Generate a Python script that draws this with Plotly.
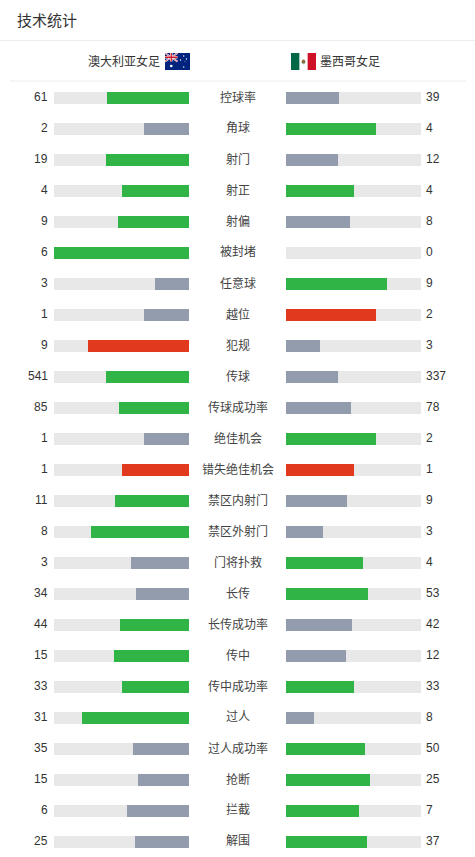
"""
技术统计 — 澳大利亚女足 vs 墨西哥女足
左右对比条形图 (Plotly)
"""
import base64

import plotly.graph_objects as go

W, H = 475, 857

# 数据
stat_labels = [
    "控球率", "角球", "射门", "射正", "射偏", "被封堵", "任意球", "越位", "犯规",
    "传球", "传球成功率", "绝佳机会", "错失绝佳机会", "禁区内射门", "禁区外射门",
    "门将扑救", "长传", "长传成功率", "传中", "传中成功率", "过人", "过人成功率",
    "抢断", "拦截", "解围",
]
home_values = [61, 2, 19, 4, 9, 6, 3, 1, 9, 541, 85, 1, 1, 11, 8, 3, 34, 44, 15, 33, 31, 35, 15, 6, 25]
away_values = [39, 4, 12, 4, 8, 0, 9, 2, 3, 337, 78, 2, 1, 9, 3, 4, 53, 42, 12, 33, 8, 50, 25, 7, 37]
negative_stats = ["越位", "犯规", "错失绝佳机会"]  # 数值高 = 红色

home_name = "澳大利亚女足"
away_name = "墨西哥女足"

GREEN = "#30b446"
GREY = "#939cac"
RED = "#e1391e"
TRACK = "#e8e8e8"
TEXT = "#333333"
FONT = "Liberation Sans, Noto Sans CJK SC, sans-serif"


def px_x(x):
    return x / W


def px_y(y):
    return 1 - y / H


home_share = [h / (h + a) if h + a else 0 for h, a in zip(home_values, away_values)]
away_share = [a / (h + a) if h + a else 0 for h, a in zip(home_values, away_values)]
home_colors = [
    (RED if lab in negative_stats else GREEN) if h >= a else GREY
    for lab, h, a in zip(stat_labels, home_values, away_values)
]
away_colors = [
    (RED if lab in negative_stats else GREEN) if a >= h else GREY
    for lab, h, a in zip(stat_labels, home_values, away_values)
]

fig = go.Figure()
bar_w = 12 / 31
for xa, share, colors in [("x", home_share, home_colors), ("x2", away_share, away_colors)]:
    # 灰色底轨
    fig.add_trace(go.Bar(
        x=[1] * len(stat_labels), y=stat_labels, orientation="h",
        marker=dict(color=TRACK, line_width=0), width=bar_w,
        xaxis=xa, yaxis="y", hoverinfo="skip",
    ))
    fig.add_trace(go.Bar(
        x=share, y=stat_labels, orientation="h",
        marker=dict(color=colors, line_width=0), width=bar_w,
        xaxis=xa, yaxis="y", hoverinfo="skip",
    ))

# 数值与标签
annotations = []
for lab, h, a in zip(stat_labels, home_values, away_values):
    annotations.append(dict(x=px_x(50), y=lab, xref="paper", yref="y", text=str(h),
                            xanchor="right", showarrow=False, font=dict(size=12, color=TEXT)))
    annotations.append(dict(x=px_x(424), y=lab, xref="paper", yref="y", text=str(a),
                            xanchor="left", showarrow=False, font=dict(size=12, color=TEXT)))
    annotations.append(dict(x=px_x(237.5), y=lab, xref="paper", yref="y", text=lab,
                            xanchor="center", showarrow=False, font=dict(size=12, color="#444444")))

annotations += [
    dict(x=px_x(15), y=px_y(20), xref="paper", yref="paper", text="技术统计",
         xanchor="left", yanchor="middle", showarrow=False, font=dict(size=15, color=TEXT)),
    dict(x=px_x(162), y=px_y(61), xref="paper", yref="paper", text=home_name,
         xanchor="right", yanchor="middle", showarrow=False, font=dict(size=12, color=TEXT)),
    dict(x=px_x(318), y=px_y(61), xref="paper", yref="paper", text=away_name,
         xanchor="left", yanchor="middle", showarrow=False, font=dict(size=12, color=TEXT)),
]

# 国旗 (内联 SVG)
au_svg = """<svg xmlns='http://www.w3.org/2000/svg' width='50' height='34' viewBox='0 0 50 34'>
<rect width='50' height='34' fill='#00247d'/>
<path d='M0 0L25 17M25 0L0 17' stroke='#fff' stroke-width='3.4'/>
<path d='M0 0L25 17M25 0L0 17' stroke='#cf142b' stroke-width='1.2'/>
<path d='M12.5 0V17M0 8.5H25' stroke='#fff' stroke-width='5'/>
<path d='M12.5 0V17M0 8.5H25' stroke='#cf142b' stroke-width='2.6'/>
<circle cx='12.5' cy='26' r='2.6' fill='#fff'/>
<circle cx='37.5' cy='28' r='1.3' fill='#fff'/>
<circle cx='31' cy='14' r='1.3' fill='#fff'/>
<circle cx='37.5' cy='6' r='1.3' fill='#fff'/>
<circle cx='43' cy='12' r='1.3' fill='#fff'/>
<circle cx='40' cy='17' r='0.8' fill='#fff'/>
</svg>"""
mx_svg = """<svg xmlns='http://www.w3.org/2000/svg' width='50' height='34' viewBox='0 0 50 34'>
<rect width='50' height='34' fill='#fff'/>
<rect width='16.7' height='34' fill='#006847'/>
<rect x='33.3' width='16.7' height='34' fill='#ce1126'/>
<ellipse cx='25' cy='17' rx='3.5' ry='4' fill='#8c6a3a'/>
<path d='M21 19Q25 24 29 19' stroke='#3a7d44' stroke-width='1.2' fill='none'/>
</svg>"""


def svg_uri(svg):
    return "data:image/svg+xml;base64," + base64.b64encode(svg.encode()).decode()


images = [
    dict(source=svg_uri(au_svg), xref="paper", yref="paper", x=px_x(165), y=px_y(53),
         sizex=25 / W, sizey=17 / H, xanchor="left", yanchor="top", sizing="stretch", layer="above"),
    dict(source=svg_uri(mx_svg), xref="paper", yref="paper", x=px_x(291), y=px_y(53),
         sizex=25 / W, sizey=17 / H, xanchor="left", yanchor="top", sizing="stretch", layer="above"),
]

shapes = [
    dict(type="line", xref="paper", yref="paper", x0=0, x1=1, y0=px_y(40.5), y1=px_y(40.5),
         line=dict(color="#ececec", width=1)),
    dict(type="line", xref="paper", yref="paper", x0=px_x(10), x1=px_x(466), y0=px_y(81), y1=px_y(81),
         line=dict(color="#ececec", width=1)),
]

n = len(stat_labels)
fig.update_layout(
    width=W, height=H, autosize=False,
    margin=dict(l=0, r=0, t=0, b=0),
    paper_bgcolor="white", plot_bgcolor="white",
    barmode="overlay", bargap=0, showlegend=False,
    font=dict(family=FONT, size=12, color=TEXT),
    xaxis=dict(domain=[px_x(54), px_x(189)], range=[1, 0], visible=False, fixedrange=True),
    xaxis2=dict(domain=[px_x(286), px_x(421)], range=[0, 1], visible=False, fixedrange=True),
    yaxis=dict(domain=[px_y(81.5 + 31 * n), px_y(81.5)], type="category",
               categoryorder="array", categoryarray=stat_labels,
               range=[n - 0.5, -0.5], visible=False, fixedrange=True),
    annotations=annotations,
    images=images,
    shapes=shapes,
)

# 去掉页面默认的 body 边距
fig.write_html("out.html", post_script="document.body.style.margin='0px';",
               config={"displayModeBar": False})
